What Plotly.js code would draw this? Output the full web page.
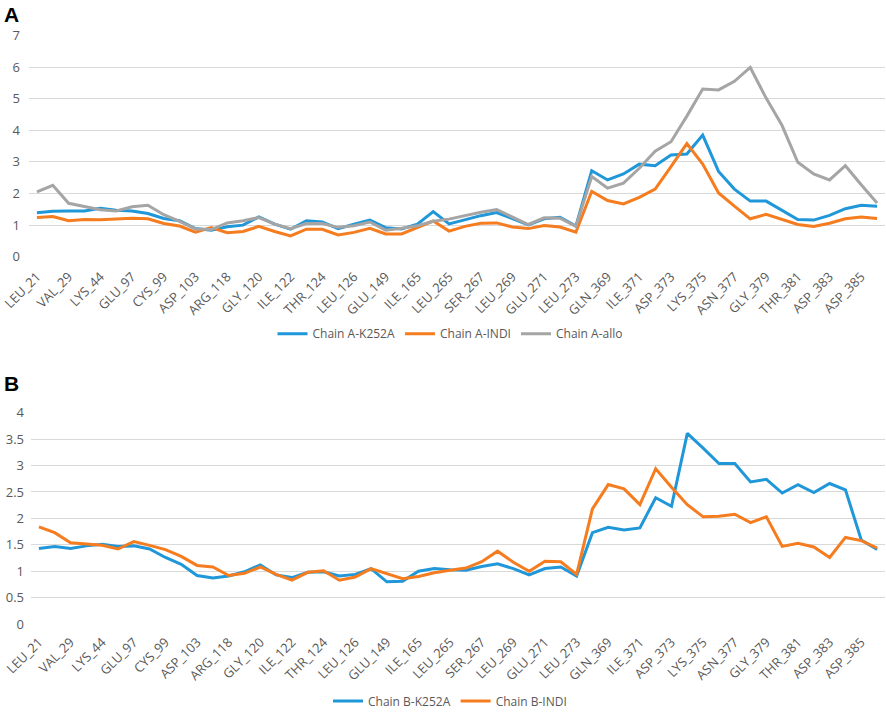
<!DOCTYPE html>
<html>
<head>
<meta charset="utf-8">
<script src="https://cdn.plot.ly/plotly-3.0.1.min.js"></script>
<style>
  html, body { margin: 0; padding: 0; background: #fff; }
  #chart { width: 886px; height: 716px; }
</style>
</head>
<body>
<div id="chart"></div>
<script>
// residue labels shown on the x axis (every other position is unlabelled)
const tickLabels = ["LEU_21", "VAL_29", "LYS_44", "GLU_97", "CYS_99", "ASP_103", "ARG_118",
    "GLY_120", "ILE_122", "THR_124", "LEU_126", "GLU_149", "ILE_165", "LEU_265", "SER_267",
    "LEU_269", "GLU_271", "LEU_273", "GLN_369", "ILE_371", "ASP_373", "LYS_375", "ASN_377",
    "GLY_379", "THR_381", "ASP_383", "ASP_385"];

// panel A
const chainA_K252A = [1.39, 1.44, 1.45, 1.45, 1.53, 1.47, 1.45, 1.37, 1.21, 1.14,
    0.89, 0.84, 0.95, 1.00, 1.26, 1.03, 0.87, 1.14, 1.10, 0.89,
    1.03, 1.16, 0.92, 0.88, 1.03, 1.43, 1.04, 1.17, 1.30, 1.40,
    1.20, 1.01, 1.20, 1.25, 0.97, 2.72, 2.43, 2.62, 2.93, 2.88,
    3.22, 3.25, 3.85, 2.70, 2.14, 1.76, 1.76, 1.46, 1.18, 1.16,
    1.31, 1.52, 1.63, 1.60];
const chainA_INDI = [1.24, 1.27, 1.14, 1.18, 1.17, 1.20, 1.22, 1.20, 1.05, 0.97,
    0.78, 0.92, 0.76, 0.80, 0.96, 0.80, 0.66, 0.87, 0.87, 0.69,
    0.77, 0.90, 0.72, 0.72, 0.93, 1.13, 0.81, 0.96, 1.06, 1.07,
    0.94, 0.89, 0.99, 0.94, 0.78, 2.07, 1.78, 1.67, 1.88, 2.14,
    2.85, 3.58, 2.93, 2.02, 1.60, 1.20, 1.34, 1.18, 1.02, 0.96,
    1.06, 1.20, 1.26, 1.21];
const chainA_allo = [2.05, 2.26, 1.69, 1.58, 1.49, 1.45, 1.58, 1.63, 1.33, 1.12,
    0.88, 0.86, 1.07, 1.14, 1.24, 1.03, 0.89, 1.05, 1.05, 0.93,
    0.98, 1.10, 0.84, 0.90, 0.98, 1.12, 1.19, 1.30, 1.41, 1.49,
    1.25, 1.02, 1.23, 1.22, 0.96, 2.54, 2.17, 2.33, 2.80, 3.34,
    3.64, 4.45, 5.31, 5.28, 5.55, 5.99, 5.02, 4.16, 2.99, 2.62,
    2.43, 2.88, 2.28, 1.70];

// panel B
const chainB_K252A = [1.43, 1.47, 1.43, 1.48, 1.51, 1.47, 1.48, 1.42, 1.26, 1.13,
    0.92, 0.87, 0.91, 0.99, 1.12, 0.93, 0.88, 0.98, 0.99, 0.91,
    0.94, 1.05, 0.80, 0.81, 1.00, 1.05, 1.03, 1.02, 1.09, 1.14,
    1.05, 0.93, 1.05, 1.08, 0.91, 1.73, 1.83, 1.78, 1.82, 2.39,
    2.23, 3.61, 3.33, 3.04, 3.04, 2.69, 2.74, 2.48, 2.64, 2.49,
    2.66, 2.54, 1.59, 1.41];
const chainB_INDI = [1.84, 1.73, 1.54, 1.51, 1.49, 1.42, 1.56, 1.49, 1.41, 1.28,
    1.11, 1.08, 0.92, 0.96, 1.08, 0.94, 0.83, 0.98, 1.01, 0.83,
    0.89, 1.05, 0.96, 0.86, 0.90, 0.97, 1.02, 1.06, 1.18, 1.38,
    1.17, 1.00, 1.19, 1.18, 0.94, 2.18, 2.64, 2.56, 2.26, 2.94,
    2.59, 2.26, 2.03, 2.04, 2.08, 1.92, 2.03, 1.47, 1.53, 1.46,
    1.26, 1.64, 1.58, 1.44];

const BLUE = "#1f97d8";
const ORANGE = "#f57c1f";
const GRAY = "#a5a5a5";
const FONT = "Open Sans, sans-serif";

const positions = chainA_K252A.map((_, i) => i);
const tickPositions = tickLabels.map((_, i) => i * 2);

function line(y, name, color, xa, ya, legend) {
    return {
        x: positions,
        y: y,
        type: "scatter",
        mode: "lines",
        name: name,
        xaxis: xa,
        yaxis: ya,
        legend: legend,
        line: { color: color, width: 3 },
        hoverinfo: "y+name"
    };
}

const traces = [
    line(chainA_K252A, "Chain A-K252A", BLUE, "x", "y", "legend"),
    line(chainA_INDI, "Chain A-INDI", ORANGE, "x", "y", "legend"),
    line(chainA_allo, "Chain A-allo", GRAY, "x", "y", "legend"),
    line(chainB_K252A, "Chain B-K252A", BLUE, "x2", "y2", "legend2"),
    line(chainB_INDI, "Chain B-INDI", ORANGE, "x2", "y2", "legend2")
];

const W = 886, H = 716;
const xAxisBase = {
    range: [-0.5, positions.length - 0.5],
    tickmode: "array",
    tickvals: tickPositions,
    ticktext: tickLabels,
    tickangle: -45,
    tickfont: { family: FONT, size: 13, color: "#595959" },
    ticklabelstandoff: 9,
    showgrid: false,
    zeroline: false,
    showline: false,
    ticks: "",
    fixedrange: true
};
const yFont = { family: FONT, size: 13, color: "#595959" };

const legendBase = {
    orientation: "h",
    xanchor: "center",
    yanchor: "middle",
    font: { family: FONT, size: 12, color: "#595959" },
    bgcolor: "rgba(0,0,0,0)",
    itemwidth: 30,
    tracegroupgap: 0
};

const layout = {
    width: W,
    height: H,
    margin: { l: 0, r: 0, t: 0, b: 0 },
    paper_bgcolor: "#fff",
    plot_bgcolor: "#fff",
    showlegend: true,
    xaxis: Object.assign({}, xAxisBase, {
        domain: [29 / W, 885 / W], anchor: "y"
    }),
    yaxis: {
        domain: [1 - 260 / H, 1 - 36 / H],
        range: [0, 7],
        dtick: 1,
        anchor: "x",
        tickfont: yFont,
        gridcolor: "#d9d9d9",
        gridwidth: 1,
        zeroline: false,
        showline: false,
        ticks: "",
        ticklabelstandoff: 8,
        fixedrange: true
    },
    xaxis2: Object.assign({}, xAxisBase, {
        domain: [31 / W, 885 / W], anchor: "y2", ticklabelstandoff: 7
    }),
    yaxis2: {
        domain: [1 - 632 / H, 1 - 418 / H],
        range: [0, 4],
        dtick: 0.5,
        anchor: "x2",
        tickfont: yFont,
        gridcolor: "#d9d9d9",
        gridwidth: 1,
        zeroline: false,
        showline: false,
        ticks: "",
        ticklabelstandoff: 6,
        fixedrange: true
    },
    legend: Object.assign({}, legendBase, { x: 450 / W, y: 1 - 338 / H }),
    legend2: Object.assign({}, legendBase, { x: 450 / W, y: 1 - 710 / H }),
    annotations: [
        {
            text: "<b>A</b>", xref: "paper", yref: "paper",
            x: 2 / W, y: 1 - 1 / H, xanchor: "left", yanchor: "top",
            showarrow: false, font: { family: "Liberation Sans, Arial", size: 21, color: "#000" }
        },
        {
            text: "<b>B</b>", xref: "paper", yref: "paper",
            x: 2 / W, y: 1 - 375 / H, xanchor: "left", yanchor: "top",
            showarrow: false, font: { family: "Liberation Sans, Arial", size: 21, color: "#000" }
        }
    ]
};

Plotly.newPlot("chart", traces, layout, { displayModeBar: false, staticPlot: true });
</script>
</body>
</html>
